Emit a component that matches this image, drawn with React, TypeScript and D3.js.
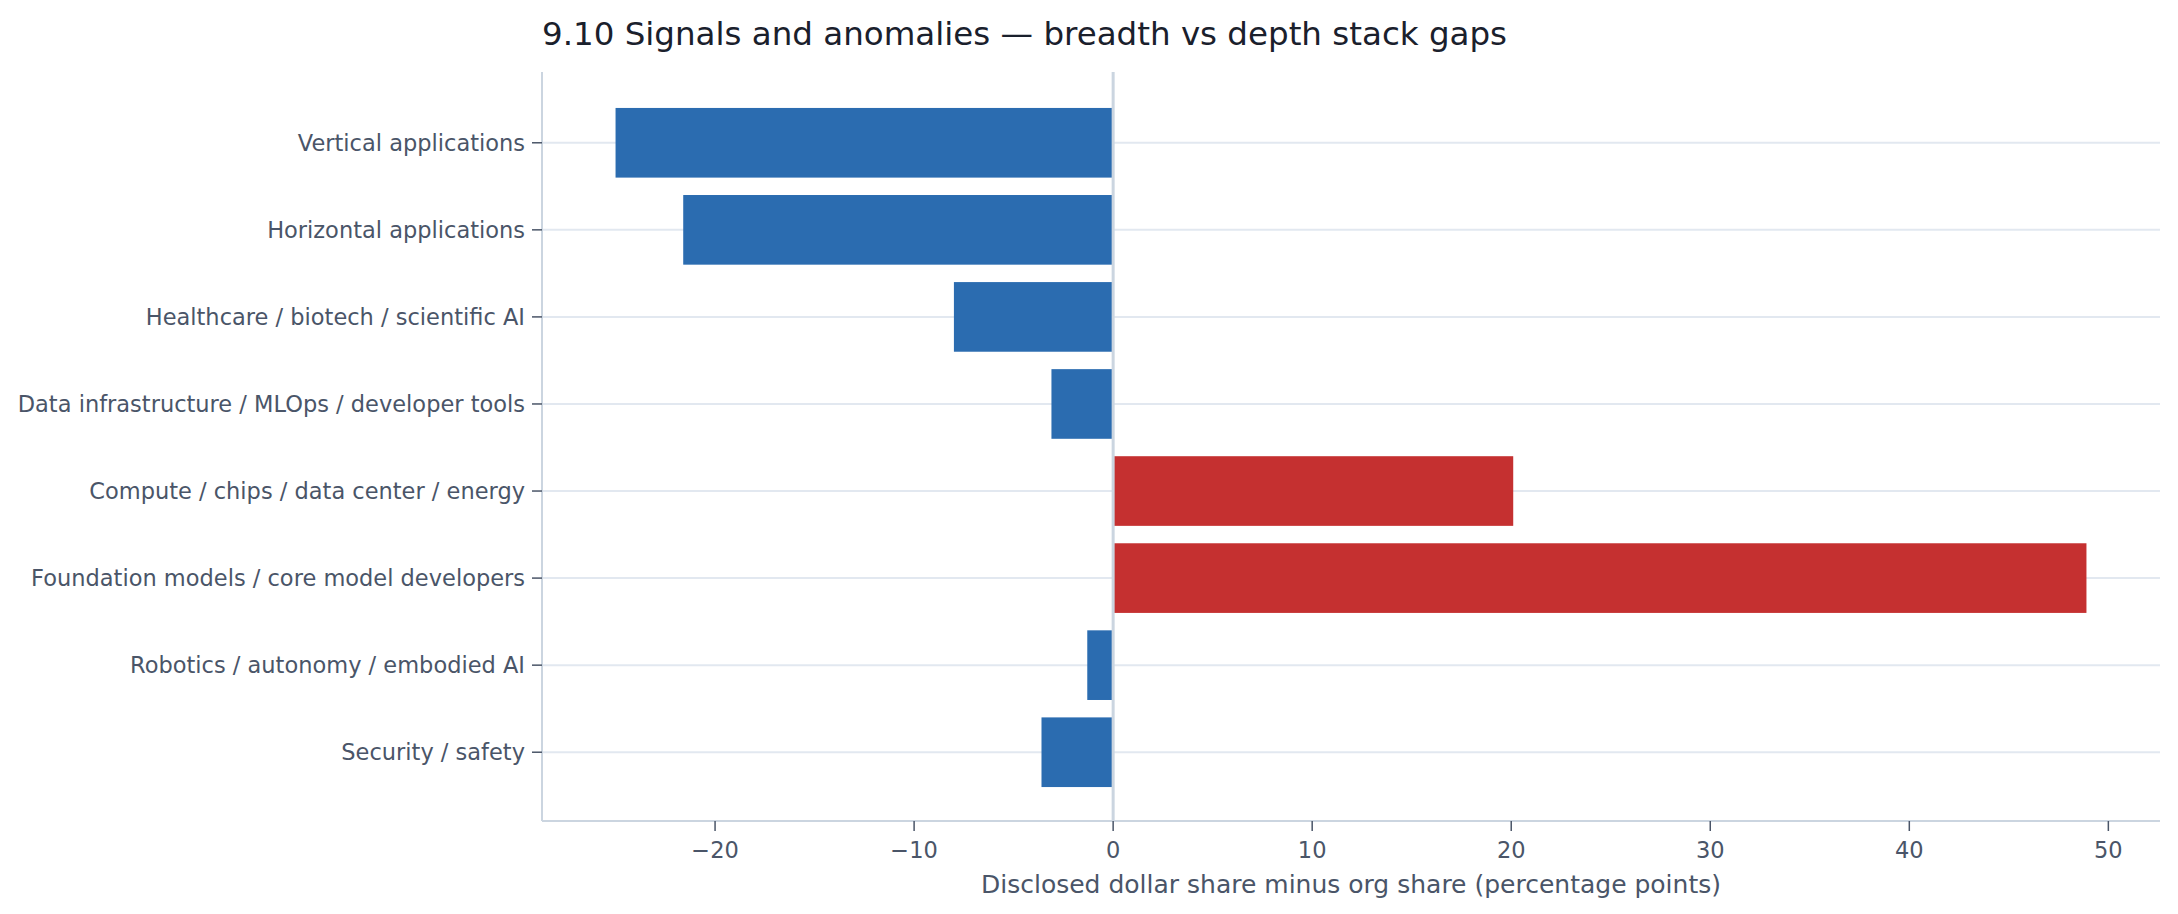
import { useEffect, useRef } from "react";
import * as d3 from "d3";

const categories = [
  "Vertical applications",
  "Horizontal applications",
  "Healthcare / biotech / scientific AI",
  "Data infrastructure / MLOps / developer tools",
  "Compute / chips / data center / energy",
  "Foundation models / core model developers",
  "Robotics / autonomy / embodied AI",
  "Security / safety",
];

// dollar share minus org share, percentage points
const gaps = [-25.0, -21.6, -8.0, -3.1, 20.1, 48.9, -1.3, -3.6];

const xTicks = [-20, -10, 0, 10, 20, 30, 40, 50];

const W = 2178;
const H = 914;

export default function App() {
  const svgRef = useRef<SVGSVGElement>(null);

  useEffect(() => {
    if (!svgRef.current) return;
    const svg = d3.select(svgRef.current);
    svg.selectAll("*").remove();

    const margin = { top: 74, right: 18, bottom: 93, left: 542 };
    const left = margin.left;
    const right = W - margin.right;
    const top = margin.top;
    const bottom = H - margin.bottom;

    // matplotlib-ish 5% padding on the value axis
    const lo = d3.min(gaps)!;
    const hi = d3.max(gaps)!;
    const pad = (hi - lo) * 0.05;
    const x = d3.scaleLinear().domain([lo - pad, hi + pad]).range([left, right]);

    const n = categories.length;
    const barH = 0.8;
    const yPad = (n - 1 + barH) * 0.05;
    const y = d3
      .scaleLinear()
      .domain([-barH / 2 - yPad, n - 1 + barH / 2 + yPad])
      .range([top, bottom]);

    const textColor = "#4a5568";
    const font = "DejaVu Sans, sans-serif";
    const tickSize = "22.5px";

    // horizontal grid
    svg
      .append("g")
      .selectAll("line")
      .data(categories)
      .enter()
      .append("line")
      .attr("x1", left)
      .attr("x2", right)
      .attr("y1", (_, i) => y(i))
      .attr("y2", (_, i) => y(i))
      .attr("stroke", "#e2e8f0")
      .attr("stroke-width", 2);

    // bars
    svg
      .append("g")
      .selectAll("rect")
      .data(gaps)
      .enter()
      .append("rect")
      .attr("x", (d) => Math.min(x(0), x(d)))
      .attr("width", (d) => Math.abs(x(d) - x(0)))
      .attr("y", (_, i) => y(i - barH / 2))
      .attr("height", y(barH) - y(0))
      .attr("fill", (d) => (d >= 0 ? "#c53030" : "#2b6cb0"));

    // zero line
    svg
      .append("line")
      .attr("x1", x(0))
      .attr("x2", x(0))
      .attr("y1", top - 2)
      .attr("y2", bottom)
      .attr("stroke", "#cbd5e0")
      .attr("stroke-width", 3);

    // spines
    svg
      .append("line")
      .attr("x1", left)
      .attr("x2", left)
      .attr("y1", top - 2)
      .attr("y2", bottom)
      .attr("stroke", "#cbd5e0")
      .attr("stroke-width", 2);
    svg
      .append("line")
      .attr("x1", left)
      .attr("x2", right)
      .attr("y1", bottom)
      .attr("y2", bottom)
      .attr("stroke", "#cbd5e0")
      .attr("stroke-width", 2);

    // y ticks + labels
    const yAxis = svg.append("g");
    categories.forEach((c, i) => {
      yAxis
        .append("line")
        .attr("x1", left - 10)
        .attr("x2", left)
        .attr("y1", y(i))
        .attr("y2", y(i))
        .attr("stroke", textColor)
        .attr("stroke-width", 1.5);
      yAxis
        .append("text")
        .attr("x", left - 17)
        .attr("y", y(i))
        .attr("dy", "0.35em")
        .attr("text-anchor", "end")
        .style("font-family", font)
        .style("font-size", tickSize)
        .style("fill", textColor)
        .text(c);
    });

    // x ticks + labels
    const xAxis = svg.append("g");
    xTicks.forEach((t) => {
      xAxis
        .append("line")
        .attr("x1", x(t))
        .attr("x2", x(t))
        .attr("y1", bottom)
        .attr("y2", bottom + 10)
        .attr("stroke", textColor)
        .attr("stroke-width", 1.5);
      xAxis
        .append("text")
        .attr("x", x(t))
        .attr("y", bottom + 37)
        .attr("text-anchor", "middle")
        .style("font-family", font)
        .style("font-size", tickSize)
        .style("fill", textColor)
        .text(t < 0 ? `\u2212${Math.abs(t)}` : `${t}`);
    });

    svg
      .append("text")
      .attr("x", (left + right) / 2)
      .attr("y", bottom + 72)
      .attr("text-anchor", "middle")
      .style("font-family", font)
      .style("font-size", "25px")
      .style("fill", textColor)
      .text("Disclosed dollar share minus org share (percentage points)");

    svg
      .append("text")
      .attr("x", left)
      .attr("y", 45)
      .style("font-family", font)
      .style("font-size", "32.5px")
      .style("fill", "#1a202c")
      .text("9.10 Signals and anomalies \u2014 breadth vs depth stack gaps");
  }, []);

  return (
    <svg
      ref={svgRef}
      width={W}
      height={H}
      style={{ position: "absolute", left: 0, top: 0, background: "#fff" }}
    />
  );
}
